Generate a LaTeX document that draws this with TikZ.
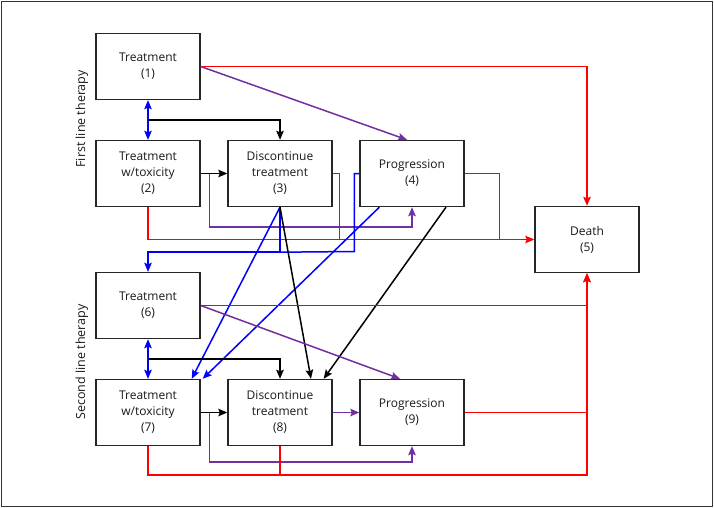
\documentclass[tikz,border=0pt]{standalone}
\usepackage{fontspec}
\setmainfont{Open Sans}
\usetikzlibrary{arrows.meta,calc}
\definecolor{myred}{RGB}{255,0,0}
\definecolor{myblue}{RGB}{0,0,255}
\definecolor{mypurple}{RGB}{112,48,160}
\tikzset{
  statebox/.style={draw=black!85, line width=1.4pt, minimum width=104pt, minimum height=66pt, inner sep=0pt, align=center, font=\fontsize{12}{16}\selectfont, text=black!90},
  sidelabel/.style={rotate=90, font=\fontsize{12.5}{15}\selectfont, text=black!90},
  conn/.style={line width=1.5pt},
  arr/.style={-{Stealth[length=9pt,width=7.5pt,inset=1.5pt]}},
  darr/.style={{Stealth[length=9pt,width=7.5pt,inset=1.5pt]}-{Stealth[length=9pt,width=7.5pt,inset=1.5pt]}},
  redl/.style={conn, draw=myred, color=myred},
  bluel/.style={conn, draw=myblue, color=myblue},
  purl/.style={conn, draw=mypurple, color=mypurple},
  blkl/.style={conn, draw=black, color=black}
}
\begin{document}
\begin{tikzpicture}[x=1pt,y=-1pt]
\useasboundingbox (0,0) rectangle (714,508);
\draw[line width=1.4pt, black!80] (1.5,1.5) rectangle (712.5,506.5);

\node[sidelabel] (l1) at (82,119) {First line therapy};
\node[sidelabel] (l2) at (82,362) {Second line therapy};

\node[statebox] (b1) at (148,66.5) {Treatment\\(1)};
\node[statebox] (b2) at (148,173.5) {Treatment\\w/toxicity\\(2)};
\node[statebox] (b3) at (280,173.5) {Discontinue\\treatment\\(3)};
\node[statebox] (b4) at (412,173.5) {Progression\\(4)};
\node[statebox] (b5) at (587,239.5) {Death\\(5)};
\node[statebox] (b6) at (148,305.5) {Treatment\\(6)};
\node[statebox] (b7) at (148,412.5) {Treatment\\w/toxicity\\(7)};
\node[statebox] (b8) at (280,412.5) {Discontinue\\treatment\\(8)};
\node[statebox] (b9) at (412,412.5) {Progression\\(9)};

\coordinate (j1) at ($(b1.south)!0.5!(b2.north)$);
\coordinate (j2) at ($(b6.south)!0.5!(b7.north)$);
\coordinate (p1) at ([xshift=9pt]b2.east);
\coordinate (p2) at ([xshift=9pt]b7.east);
\coordinate (bl) at ($(b3.south)+(0,45)$);
\coordinate (rl) at ($(b8.south)+(0,29)$);

% first line
\draw[redl,arr] (b1.east) -| (b5.north);
\draw[purl,arr] (b1.east) -- ([xshift=-5pt]b4.north);
\draw[bluel,darr] (b1.south) -- (b2.north);
\draw[blkl,arr] (j1) -| (b3.north);
\draw[blkl,arr] (b2.east) -- (b3.west);
\draw[purl,arr] (p1) |- ($(b4.south)+(0,20)$) -- (b4.south);
\draw[redl,arr] (b2.south) |- (b5.west);
\draw[redl] (b3.east) -| ($(b3.east)+(7,66)$);
\draw[redl] (b4.east) -| ($(b4.east)+(35,66)$);
\draw[bluel,arr] (b3.south) -- (bl) -| (b6.north);
\draw[bluel] (b4.west) -| ($(b4.west)+(-5,78)$) -- (bl);
\draw[bluel,arr] (b3.south) -- ([xshift=-9pt]b7.north east);
\draw[bluel,arr] ([xshift=20pt]b4.south west) -- ([xshift=2pt]b7.north east);
\draw[blkl,arr] (b3.south) -- ([xshift=31pt]b8.north);
\draw[blkl,arr] ([xshift=34pt]b4.south) -- ([xshift=-9pt]b8.north east);

% second line
\draw[redl,arr] (b6.east) -| (b5.south);
\draw[purl,arr] (b6.east) -- ([xshift=-12pt]b9.north);
\draw[bluel,darr] (b6.south) -- (b7.north);
\draw[blkl,arr] (j2) -| (b8.north);
\draw[blkl,arr] (b7.east) -- (b8.west);
\draw[purl,arr] (p2) |- ($(b9.south)+(0,16)$) -- (b9.south);
\draw[purl,arr] (b8.east) -- (b9.west);
\draw[redl] (b7.south) |- (rl);
\draw[redl,line width=2pt,arr] (b8.south) -- (rl) -| (b5.south);
\draw[redl] (b9.east) -- (b9.east -| b5.south);
\end{tikzpicture}
\end{document}
